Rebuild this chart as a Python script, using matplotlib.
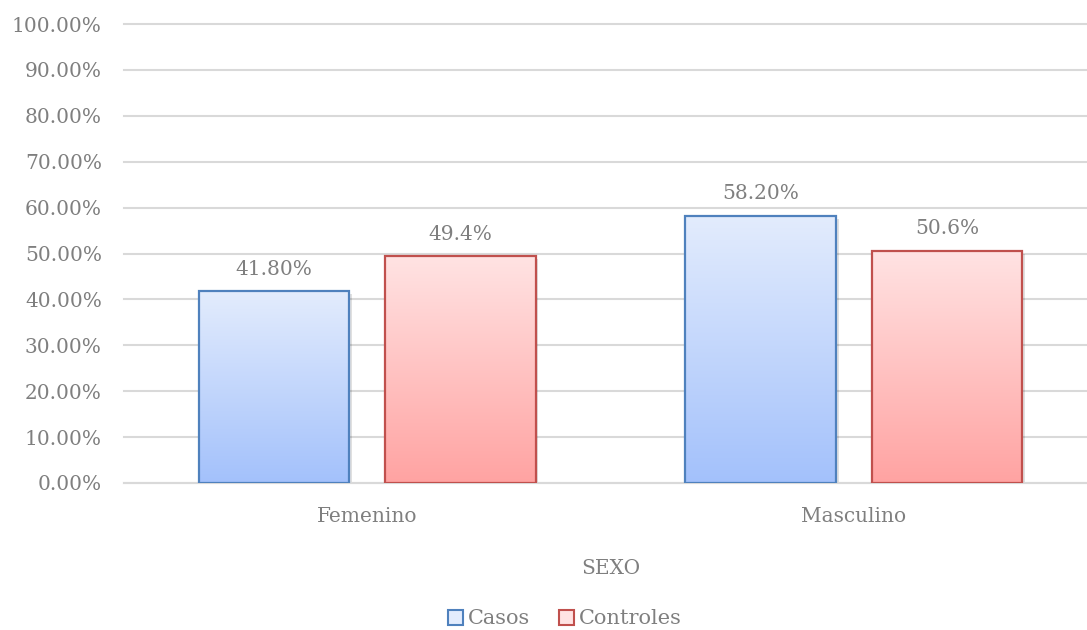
import numpy as np
import matplotlib
matplotlib.use("Agg")
import matplotlib.pyplot as plt
from matplotlib.patches import Patch
from matplotlib.colors import LinearSegmentedColormap
import matplotlib.patheffects as pe

categories = ["Femenino", "Masculino"]
series = ["Casos", "Controles"]
casos = [41.80, 58.20]
controles = [49.4, 50.6]
label_fmt = {"Casos": "{:.2f}%", "Controles": "{:.1f}%"}

plt.rcParams["font.family"] = ["DejaVu Serif"]
text_gray = "#7F7F7F"

styles = {
    "Casos": {"edge": "#4F81BD", "top": "#E3ECFD", "bottom": "#A3C1FB"},
    "Controles": {"edge": "#C0504D", "top": "#FFE3E3", "bottom": "#FFA3A2"},
}

fig = plt.figure(figsize=(10.87, 6.30), dpi=100)
ax = fig.add_axes([124 / 1087, 147 / 630, 973 / 1087, 459 / 630])

x = np.arange(len(categories))
width = 0.309
offset = 0.1915

for name, values, shift in [("Casos", casos, -offset), ("Controles", controles, offset)]:
    st = styles[name]
    cmap = LinearSegmentedColormap.from_list(name, [st["bottom"], st["top"]])
    # white base with soft drop shadow
    base = ax.bar(x + shift, values, width, color="white", zorder=2,
                  path_effects=[pe.SimplePatchShadow(offset=(2, -2), shadow_rgbFace="#000000", alpha=0.12),
                                pe.Normal()])
    for rect, v in zip(base, values):
        x0, w, h = rect.get_x(), rect.get_width(), rect.get_height()
        grad = np.linspace(0, 1, 256).reshape(-1, 1)
        ax.imshow(grad, extent=(x0, x0 + w, 0, h), origin="lower", cmap=cmap,
                  aspect="auto", zorder=3)
        ax.annotate(label_fmt[name].format(v), (x0 + w / 2, h), xytext=(0, 9),
                    textcoords="offset points", ha="center", va="bottom",
                    fontsize=14.5, color=text_gray)
    ax.bar(x + shift, values, width, facecolor="none", edgecolor=st["edge"],
           linewidth=1.6, zorder=4)

ax.set_xlim(-0.5, 1.5)
ax.set_ylim(0, 100)
ax.set_yticks(np.arange(0, 101, 10))
ax.set_yticklabels([f"{v:.2f}%" for v in range(0, 101, 10)])
ax.set_xticks(x)
ax.set_xticklabels(categories)
ax.grid(axis="y", color="#D9D9D9", linewidth=1.5, zorder=0)
for gl in ax.get_ygridlines():
    gl.set_clip_on(False)
ax.set_axisbelow(True)
for s in ["top", "right", "left"]:
    ax.spines[s].set_visible(False)
ax.spines["bottom"].set_color("#D9D9D9")
ax.spines["bottom"].set_linewidth(1.5)
ax.tick_params(axis="both", length=0, labelsize=14.5, colors=text_gray)
ax.tick_params(axis="y", pad=16)
ax.tick_params(axis="x", pad=17)
ax.set_xlabel("SEXO", fontsize=14.5, color=text_gray, labelpad=24)

handles = [Patch(facecolor=styles[n]["top"], edgecolor=styles[n]["edge"], linewidth=1.5) for n in series]
fig.legend(handles, series, loc="center", bbox_to_anchor=(565 / 1087, 1 - 619 / 630),
           ncol=2, frameon=False, fontsize=15, labelcolor=text_gray,
           handlelength=0.7, handleheight=0.7, handletextpad=0.25, columnspacing=1.4)

fig.savefig("out.png", dpi=100)
